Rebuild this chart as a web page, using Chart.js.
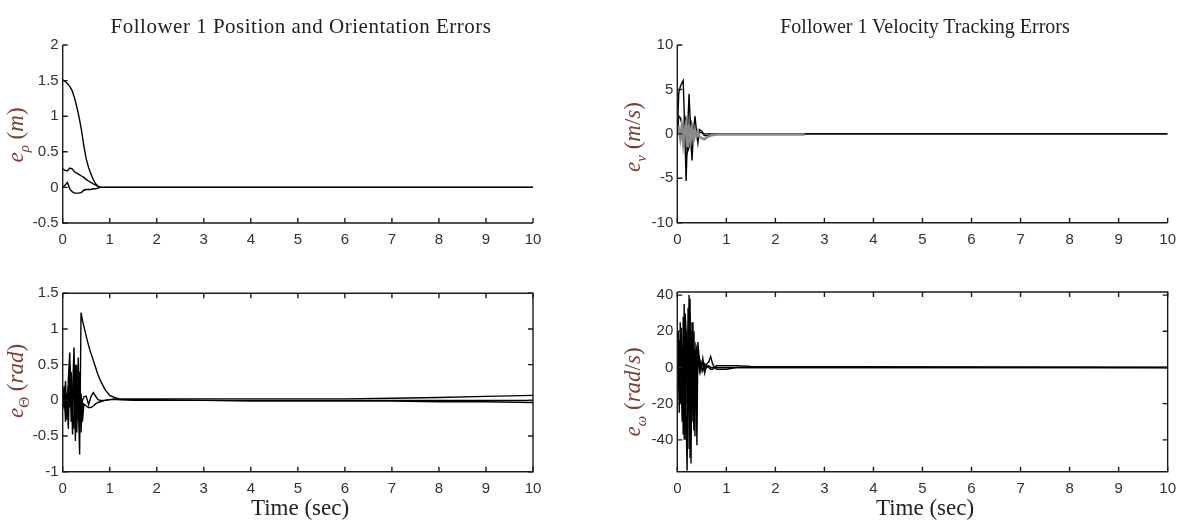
<!DOCTYPE html>
<html>
<head>
<meta charset="utf-8">
<script src="https://cdn.jsdelivr.net/npm/chart.js@4.4.0/dist/chart.umd.min.js"></script>
<style>
  body { margin: 0; background: #fff; }
  #page { position: relative; width: 1184px; height: 527px; overflow: hidden; font-family: "Liberation Serif", serif; color: #222; }
  canvas { position: absolute; }
  .title { position: absolute; top: 14px; font-size: 21px; transform: translateX(-50%); white-space: nowrap; }
  .ylab { position: absolute; font-size: 23px; color: #7b3f35; white-space: nowrap; line-height: 1; transform: translate(-50%, -50%) rotate(-90deg); }
  .ylab sub { font-size: 15px; }
  .xlab { position: absolute; top: 495px; font-size: 23px; transform: translateX(-50%); white-space: nowrap; }
</style>
</head>
<body>
<div id="page">
  <canvas id="rhoChart" width="592" height="264" style="left:0;top:0"></canvas>
  <canvas id="velChart" width="592" height="264" style="left:592px;top:0"></canvas>
  <canvas id="thetaChart" width="592" height="263" style="left:0;top:264px"></canvas>
  <canvas id="omegaChart" width="592" height="263" style="left:592px;top:264px"></canvas>

  <div class="title" style="left:301px;letter-spacing:0.5px">Follower 1 Position and Orientation Errors</div>
  <div class="title" style="left:925px;font-size:20px;top:15px">Follower 1 Velocity Tracking Errors</div>

  <div class="ylab" style="left:18px;top:135px"><i>e</i><sub><i>ρ</i></sub> (<i>m</i>)</div>
  <div class="ylab" style="left:18px;top:381px"><i>e</i><sub>Θ</sub> (<i>rad</i>)</div>
  <div class="ylab" style="left:635px;top:137px"><i>e</i><sub><i>v</i></sub> (<i>m</i>/<i>s</i>)</div>
  <div class="ylab" style="left:635px;top:392px"><i>e</i><sub><i>ω</i></sub> (<i>rad</i>/<i>s</i>)</div>

  <div class="xlab" style="left:300px">Time (sec)</div>
  <div class="xlab" style="left:925px">Time (sec)</div>
</div>

<script>
// tick labels
var timeTicks = [0, 1, 2, 3, 4, 5, 6, 7, 8, 9, 10];
var rhoTicks = [-0.5, 0, 0.5, 1, 1.5, 2];
var velTicks = [-10, -5, 0, 5, 10];
var thetaTicks = [-1, -0.5, 0, 0.5, 1, 1.5];
var omegaTicks = [-40, -20, 0, 20, 40];

// position error e_rho
var tRho = [0, 0.05, 0.1, 0.15, 0.2, 0.25, 0.3, 0.35, 0.4, 0.45, 0.5, 0.55, 0.6, 0.65, 0.7, 0.75, 0.8, 0.9, 1.0, 10];
var rho1 = [1.51, 1.49, 1.46, 1.42, 1.36, 1.26, 1.13, 0.98, 0.80, 0.58, 0.40, 0.28, 0.19, 0.11, 0.05, 0.02, 0, 0, 0, 0];
var rho2 = [0.26, 0.24, 0.23, 0.27, 0.26, 0.22, 0.20, 0.18, 0.16, 0.14, 0.11, 0.09, 0.07, 0.05, 0.03, 0.01, 0, 0, 0, 0];
var rho3 = [0, 0.03, 0.07, -0.02, -0.06, -0.08, -0.08, -0.08, -0.07, -0.04, -0.03, -0.03, -0.03, -0.02, -0.02, -0.01, 0, 0, 0, 0];

// velocity error e_v
var tVel = [0, 0.03, 0.06, 0.09, 0.12, 0.15, 0.18, 0.21, 0.24, 0.27, 0.3, 0.33, 0.36, 0.39, 0.42, 0.45, 0.5, 0.55, 0.6, 0.7, 0.8, 1.0, 2.6, 10];
var vel1 = [0, 4.6, 5.3, 5.7, 6.0, 0.8, -5.3, 0.4, 4.5, 0.6, -3.0, 0.2, 2.0, 0.4, -1.0, 0.5, 0.3, -0.2, -0.2, -0.1, 0, 0, 0, 0];
var vel2 = [0, 2.0, 1.8, 1.2, -1.0, 2.0, 1.5, -2.0, -1.5, 1.5, 1.0, -1.0, 0.8, 0.5, -0.3, 0.2, 0.1, 0, 0, 0, 0, 0, 0, 0];
var vel3 = [0, 0.5, -0.5, 0.8, -1.0, 0.5, 1.2, -1.5, 1.0, -0.8, 0.6, -0.5, 0.4, -0.3, 0.2, -0.3, -0.5, -0.6, -0.4, -0.15, -0.08, -0.08, -0.08, null];

// orientation error e_theta
var tTheta = [0, 0.03, 0.06, 0.09, 0.12, 0.15, 0.18, 0.21, 0.24, 0.27, 0.3, 0.33, 0.36, 0.39, 0.42, 0.45, 0.5, 0.55, 0.6, 0.65, 0.7, 0.75, 0.8, 0.9, 1.0, 1.1, 1.2, 1.5, 2, 3, 4, 5, 6, 7, 8, 9, 10];
var theta1 = [0.13, -0.10, 0.27, -0.27, 0.30, 0.67, -0.30, 0.10, 0.74, -0.20, 0.30, 0.00, -0.76, 1.23, 1.12, 1.04, 0.90, 0.77, 0.66, 0.56, 0.46, 0.36, 0.28, 0.15, 0.07, 0.04, 0.02, 0.02, 0.02, 0.02, 0.02, 0.02, 0.02, 0.03, 0.04, 0.055, 0.07];
var theta2 = [0, 0.20, -0.30, 0.10, -0.40, 0.50, 0.20, -0.48, 0.60, -0.57, 0.50, -0.30, 0.40, -0.45, 0.00, 0.05, 0.06, -0.06, 0.05, 0.11, 0.06, 0.01, 0.00, 0.00, 0.01, 0.01, 0.01, 0.01, 0.01, 0.00, -0.01, -0.01, -0.01, -0.01, -0.02, -0.02, -0.03];
var theta3 = [0, -0.10, 0.10, -0.20, 0.20, -0.10, 0.40, -0.20, -0.40, 0.50, -0.45, 0.60, -0.30, 0.10, -0.30, -0.05, -0.08, -0.10, -0.10, -0.08, -0.05, -0.03, -0.02, 0.00, 0.01, 0.02, 0.01, 0, 0, 0, 0, 0, 0, 0, 0, 0, 0];

// angular velocity error e_omega
var tOmega = [0, 0.02, 0.04, 0.06, 0.08, 0.1, 0.12, 0.14, 0.16, 0.18, 0.2, 0.22, 0.24, 0.26, 0.28, 0.3, 0.32, 0.34, 0.36, 0.38, 0.4, 0.42, 0.45, 0.48, 0.52, 0.56, 0.6, 0.64, 0.68, 0.72, 0.76, 0.8, 0.9, 1.0, 1.2, 1.5, 10];
var omega1 = [-15, 8, -18, 10, -6, 12, -37, 20, 28, -30, -57, 15, 30, 38, -53, 25, -20, -35, 10, 5, -43, 14, 4, -2, 5, -3, 2, 3, 6, 2, 0, -1, -1, -1, 0, 0, 0];
var omega2 = [0, 20, -25, 25, -10, -30, 28, -40, 30, 20, -20, 33, -45, 30, -20, 15, -30, 20, -38, 12, 10, 5, -2, 3, -2, 2, 0, 1, 0, 0, 0, 1, 1, 1, 1, 0.5, 0];
var omega3 = [0, -10, 15, -20, 22, 5, -30, 35, -40, 20, 10, -25, 40, -50, 20, -10, 18, -28, 8, -12, 8, 2, 5, 0, 3, -2, 1, 0, -1, -1, 0, 0, 0, 0, 0, 0, 0];

// matlab style axes: left/bottom lines, optional box, inward ticks
var axesBox = {
    id: 'axesBox',
    afterDatasetsDraw: function (chart, args, opts) {
        var ctx = chart.ctx, a = chart.chartArea;
        var xs = chart.scales.x, ys = chart.scales.y;
        ctx.save();
        ctx.strokeStyle = '#1b1b1b';
        ctx.lineWidth = 1.4;
        ctx.beginPath();
        ctx.moveTo(a.left, a.top);
        ctx.lineTo(a.left, a.bottom);
        ctx.lineTo(a.right, a.bottom);
        if (opts.box) {
            ctx.lineTo(a.right, a.top);
            ctx.lineTo(a.left, a.top);
        }
        ctx.stroke();
        ctx.beginPath();
        xs.ticks.forEach(function (t) {
            var px = xs.getPixelForValue(t.value);
            ctx.moveTo(px, a.bottom);
            ctx.lineTo(px, a.bottom - 5);
            if (opts.box) {
                ctx.moveTo(px, a.top);
                ctx.lineTo(px, a.top + 5);
            }
        });
        ys.ticks.forEach(function (t) {
            var py = ys.getPixelForValue(t.value);
            ctx.moveTo(a.left, py);
            ctx.lineTo(a.left + 5, py);
            if (opts.box) {
                ctx.moveTo(a.right, py);
                ctx.lineTo(a.right - 5, py);
            }
        });
        ctx.stroke();
        ctx.restore();
    }
};

function series(ts, vals, color, width) {
    return {
        data: ts.map(function (t, i) { return { x: t, y: vals[i] }; }),
        borderColor: color,
        borderWidth: width || 1.4,
        pointRadius: 0,
        fill: false,
        tension: 0
    };
}

var tickFont = { family: 'Liberation Sans', size: 15 };

function makePlot(id, area, ymin, ymax, yTicks, datasets, box) {
    var canvas = document.getElementById(id);
    var W = canvas.width, H = canvas.height;
    var yAxisW = 50, xAxisH = 30;
    return new Chart(canvas.getContext('2d'), {
        type: 'line',
        data: { datasets: datasets },
        plugins: [axesBox],
        options: {
            responsive: false,
            animation: false,
            layout: {
                padding: { left: area.l - yAxisW, top: area.t, right: W - area.r, bottom: H - area.b - xAxisH }
            },
            plugins: {
                legend: { display: false },
                tooltip: { enabled: false },
                axesBox: { box: box }
            },
            scales: {
                x: {
                    type: 'linear',
                    min: 0,
                    max: 10,
                    afterBuildTicks: function (s) { s.ticks = timeTicks.map(function (v) { return { value: v }; }); },
                    afterFit: function (s) { s.height = xAxisH; },
                    grid: { display: false, drawTicks: false },
                    border: { display: false },
                    ticks: { padding: 8, color: '#333', font: tickFont, maxRotation: 0, autoSkip: false,
                        callback: function (v) { return String(v); } }
                },
                y: {
                    type: 'linear',
                    min: ymin,
                    max: ymax,
                    afterBuildTicks: function (s) { s.ticks = yTicks.map(function (v) { return { value: v }; }); },
                    afterFit: function (s) { s.width = yAxisW; },
                    grid: { display: false, drawTicks: false },
                    border: { display: false },
                    ticks: { padding: 4, color: '#333', font: tickFont, autoSkip: false,
                        callback: function (v) { return String(v); } }
                }
            }
        }
    });
}

document.addEventListener('DOMContentLoaded', function () {
    makePlot('rhoChart', { l: 62.7, t: 45, r: 533, b: 223 }, -0.5, 2, rhoTicks, [
        series(tRho, rho1, '#000'),
        series(tRho, rho2, '#000'),
        series(tRho, rho3, '#000')
    ], false);

    makePlot('velChart', { l: 677.3 - 592, t: 45, r: 1171.7 - 592, b: 222.7 }, -10, 10, velTicks, [
        series(tVel, vel3, '#8a8a8a', 2.6),
        series(tVel, vel1, '#000'),
        series(tVel, vel2, '#000')
    ], false);

    makePlot('thetaChart', { l: 62.7, t: 29.3, r: 533, b: 207.7 }, -1, 1.5, thetaTicks, [
        series(tTheta, theta1, '#000'),
        series(tTheta, theta2, '#000'),
        series(tTheta, theta3, '#000')
    ], true);

    makePlot('omegaChart', { l: 677.3 - 592, t: 28, r: 1171.7 - 592, b: 207.7 }, -57.6, 41.7, omegaTicks, [
        series(tOmega, omega1, '#000'),
        series(tOmega, omega2, '#000'),
        series(tOmega, omega3, '#000')
    ], true);
});
</script>
</body>
</html>
